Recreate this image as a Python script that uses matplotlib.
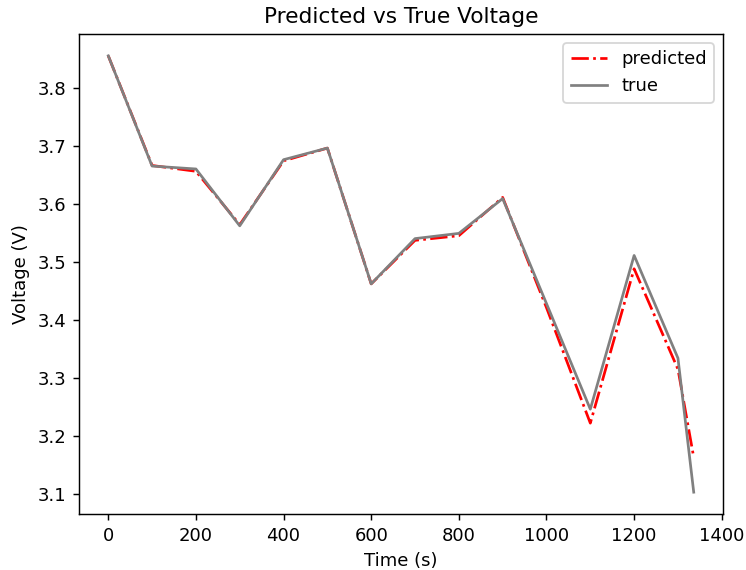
import matplotlib
matplotlib.use('Agg')
import matplotlib.pyplot as plt

# time (s) and voltage (V)
time_s = [0, 100, 200, 300, 400, 500, 600, 700, 800, 900, 1000, 1100, 1200, 1300, 1336]
v_true = [3.855, 3.665, 3.660, 3.562, 3.676, 3.696, 3.462, 3.540, 3.549, 3.609,
          3.428, 3.246, 3.511, 3.334, 3.103]
v_pred = [3.855, 3.666, 3.656, 3.564, 3.674, 3.696, 3.462, 3.537, 3.545, 3.611,
          3.421, 3.222, 3.488, 3.315, 3.163]

W, H, DPI = 746, 570, 130
fig = plt.figure(figsize=(W / DPI, H / DPI), dpi=DPI)
ax = fig.add_axes([79 / W, (H - 514) / H, 644 / W, 480 / H])

ax.plot(time_s, v_pred, 'r-.', lw=1.5, label='predicted')
ax.plot(time_s, v_true, c='grey', lw=1.5, label='true')

ax.set_title('Predicted vs True Voltage')
ax.set_xlabel('Time (s)')
ax.set_ylabel('Voltage (V)')
ax.set_xticks([0, 200, 400, 600, 800, 1000, 1200, 1400])
ax.legend(loc='upper right')

fig.savefig('out.png', dpi=DPI)
